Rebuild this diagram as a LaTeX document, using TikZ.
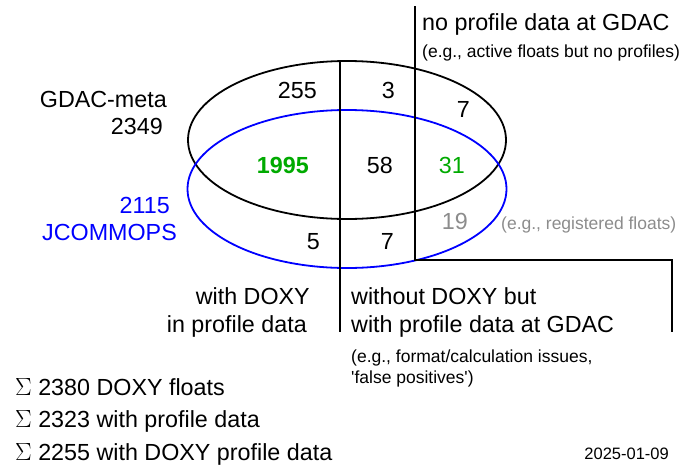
\documentclass[tikz,border=0pt]{standalone}
\usepackage{fontspec}
\setmainfont{Liberation Sans}
\definecolor{vennGruen}{RGB}{0,170,0}
\definecolor{vennGrau}{RGB}{140,140,140}
\definecolor{vennBlau}{RGB}{0,0,255}
\begin{document}
\begin{tikzpicture}[x=1pt, y=-1pt,
	gross/.style={inner sep=0pt, font=\fontsize{23.3}{28}\selectfont},
	klein/.style={inner sep=0pt, font=\fontsize{17.5}{21}\selectfont},
	trenn/.style={line width=1.8pt}]
	\useasboundingbox (0,0) rectangle (683,469);
	
	\draw[trenn] (347,140) ellipse [x radius=159, y radius=79];%GDAC-meta
	\draw[trenn, vennBlau] (347,189) ellipse [x radius=159.5, y radius=79];%JCOMMOPS
	
	\coordinate (L1o) at (340,61);
	\coordinate (L1u) at (340,332);
	\coordinate (L2o) at (415,6);
	\coordinate (L2u) at (415,260);
	\coordinate (Ro) at (672,260);
	\coordinate (Ru) at (672,332);
	\draw[trenn] (L1o) -- (L1u);%Trennung DOXY
	\draw[trenn] (L2o) -- (L2u) -- (Ro) -- (Ru);%Trennung Profildaten
	
	\node[gross, anchor=base west] (noGDAC) at (422,30) {no profile data at GDAC};
	\node[klein, anchor=base west] (noGDACbsp) at (422,57) {(e.g., active floats but no profiles)};
	
	\node[gross, anchor=base east] (meta) at (167,107) {GDAC-meta};
	\node[gross, anchor=base east] (metaN) at (163,134) {2349};
	\node[gross, anchor=base east, vennBlau] (jcN) at (170,213) {2115};
	\node[gross, anchor=base east, vennBlau] (jc) at (177,240) {JCOMMOPS};
	
	%Zahlen
	\node[gross, anchor=base east] (n255) at (317,98) {255};
	\node[gross, anchor=base east] (n3) at (395,98) {3};
	\node[gross, anchor=base east] (n7a) at (470,117) {7};
	\node[gross, anchor=base east, vennGruen, font=\fontsize{23.3}{28}\selectfont\bfseries] (n1995) at (309,173) {1995};
	\node[gross, anchor=base east] (n58) at (393,173) {58};
	\node[gross, anchor=base east, vennGruen] (n31) at (465,173) {31};
	\node[gross, anchor=base east, vennGrau] (n19) at (468,229) {19};
	\node[klein, anchor=base west, vennGrau] (reg) at (501,229) {(e.g., registered floats)};
	\node[gross, anchor=base east] (n5) at (320,249) {5};
	\node[gross, anchor=base east] (n7b) at (394,249) {7};
	
	\node[gross, anchor=base east] (mitA) at (310,304) {with DOXY};
	\node[gross, anchor=base east] (mitB) at (307,332) {in profile data};
	\node[gross, anchor=base west] (ohneA) at (351,304) {without DOXY but};
	\node[gross, anchor=base west] (ohneB) at (351,332) {with profile data at GDAC};
	\node[klein, anchor=base west] (ohneC) at (351,362) {(e.g., format/calculation issues,};
	\node[klein, anchor=base west] (ohneD) at (351,383) {\textquotesingle false positives\textquotesingle)};
	
	%Summen
	\node[gross, anchor=base west] (sum1) at (15,395) {$\Sigma$ 2380 DOXY floats};
	\node[gross, anchor=base west] (sum2) at (15,427) {$\Sigma$ 2323 with profile data};
	\node[gross, anchor=base west] (sum3) at (15,460) {$\Sigma$ 2255 with DOXY profile data};
	\node[anchor=base east, inner sep=0pt, font=\fontsize{16.5}{20}\selectfont] (datum) at (669,459) {2025-01-09};
\end{tikzpicture}
\end{document}
